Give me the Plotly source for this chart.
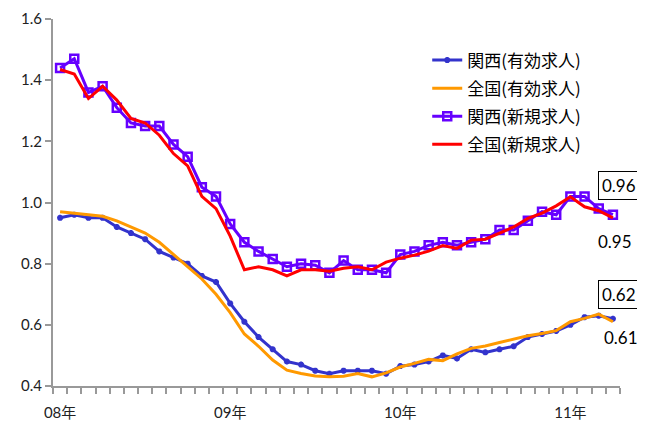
import plotly.graph_objects as go

months = [f"{y}-{m:02d}" for y in (2008, 2009, 2010, 2011) for m in range(1, 13)][:40]
x_idx = list(range(len(months)))

tick_pos = [0, 12, 24, 36]
tick_labels = ["08年", "09年", "10年", "11年"]

kansai_eff = [0.95, 0.96, 0.95, 0.95, 0.92, 0.90, 0.88, 0.84, 0.82, 0.80, 0.76, 0.74,
              0.67, 0.61, 0.56, 0.52, 0.48, 0.47, 0.45, 0.44, 0.45, 0.45, 0.45, 0.44,
              0.465, 0.47, 0.48, 0.50, 0.49, 0.52, 0.51, 0.52, 0.53, 0.56, 0.57, 0.58,
              0.60, 0.625, 0.63, 0.62]
national_eff = [0.97, 0.965, 0.96, 0.955, 0.94, 0.92, 0.90, 0.87, 0.83, 0.79, 0.75, 0.70,
                0.64, 0.57, 0.53, 0.485, 0.452, 0.441, 0.433, 0.43, 0.432, 0.441, 0.43, 0.443,
                0.462, 0.474, 0.487, 0.483, 0.505, 0.523, 0.531, 0.542, 0.553, 0.564, 0.572, 0.581,
                0.61, 0.621, 0.635, 0.61]
kansai_new = [1.44, 1.47, 1.36, 1.38, 1.31, 1.26, 1.25, 1.25, 1.19, 1.15, 1.05, 1.02,
              0.93, 0.87, 0.84, 0.815, 0.79, 0.80, 0.795, 0.77, 0.81, 0.78, 0.78, 0.77,
              0.83, 0.84, 0.86, 0.87, 0.86, 0.87, 0.88, 0.91, 0.91, 0.94, 0.97, 0.96,
              1.02, 1.02, 0.98, 0.96]
national_new = [1.435, 1.42, 1.34, 1.38, 1.335, 1.275, 1.26, 1.22, 1.16, 1.12, 1.02, 0.98,
                0.89, 0.78, 0.79, 0.78, 0.76, 0.78, 0.78, 0.775, 0.785, 0.79, 0.78, 0.805,
                0.818, 0.828, 0.841, 0.859, 0.85, 0.877, 0.88, 0.90, 0.92, 0.948, 0.965, 0.989,
                1.019, 0.986, 0.973, 0.95]

names = ["関西(有効求人)", "全国(有効求人)", "関西(新規求人)", "全国(新規求人)"]

FONT = "Lato, 'Noto Sans CJK JP', sans-serif"
CJK = "'Noto Sans CJK JP', sans-serif"

fig = go.Figure()
fig.add_trace(go.Scatter(x=x_idx, y=kansai_eff, name=names[0], mode="lines+markers",
                         legendgroup="a",
                         line=dict(color="#3333CC", width=3),
                         marker=dict(symbol="asterisk-open", size=5, color="#3333CC",
                                     line=dict(color="#3333CC", width=2))))
fig.add_trace(go.Scatter(x=x_idx, y=national_eff, name=names[1], mode="lines",
                         legendgroup="b",
                         line=dict(color="#FF9900", width=3)))
fig.add_trace(go.Scatter(x=x_idx, y=kansai_new, name=names[2], mode="lines+markers",
                         legendgroup="c",
                         line=dict(color="#6600FF", width=3),
                         marker=dict(symbol="square-open", size=8, color="#6600FF",
                                     line=dict(color="#6600FF", width=2.5))))
fig.add_trace(go.Scatter(x=x_idx, y=national_new, name=names[3], mode="lines",
                         legendgroup="d",
                         line=dict(color="#FF0000", width=3)))

box = dict(bordercolor="black", borderwidth=1, bgcolor="white", borderpad=3)
fig.add_annotation(x=39.42, y=1.054, text=f"{kansai_new[-1]:.2f}", showarrow=False,
                   font=dict(size=17, family=FONT, color="black"), **box)
fig.add_annotation(x=39.14, y=0.871, text=f"{national_new[-1]:.2f}", showarrow=False,
                   font=dict(size=17, family=FONT, color="black"))
fig.add_annotation(x=39.42, y=0.70, text=f"{kansai_eff[-1]:.2f}", showarrow=False,
                   font=dict(size=17, family=FONT, color="black"), **box)
fig.add_annotation(x=39.42, y=0.557, xshift=2, text=f"{national_eff[-1]:.2f}", showarrow=False,
                   font=dict(size=17, family=FONT, color="black"))

fig.update_layout(
    width=637, height=415,
    margin=dict(l=45, r=25, t=11, b=37),
    paper_bgcolor="white", plot_bgcolor="white",
    font=dict(family=FONT, size=14, color="#222222"),
    showlegend=True,
    legend=dict(x=0.66, y=0.936, xanchor="left", yanchor="top",
                font=dict(family=CJK, size=17, color="black"),
                bgcolor="rgba(0,0,0,0)", tracegroupgap=3, traceorder="grouped"),
    xaxis=dict(range=[-0.5, 39.5], tickmode="array", tickvals=tick_pos, ticktext=tick_labels,
               ticks="", showgrid=False, zeroline=False, automargin=False,
               showline=True, linecolor="#999999", linewidth=2,
               minor=dict(ticks="outside", tick0=-0.5, dtick=1, ticklen=6,
                          tickcolor="#999999", tickwidth=1.5, showgrid=False),
               tickfont=dict(family=FONT, size=15, color="#222222"), ticklabelstandoff=12),
    yaxis=dict(range=[0.4, 1.6], dtick=0.2, tick0=0.4, tickformat=".1f",
               ticks="outside", ticklen=6, tickcolor="#999999", tickwidth=1.5,
               showgrid=False, zeroline=False, automargin=False,
               showline=True, linecolor="#999999", linewidth=2,
               tickfont=dict(family=FONT, size=15, color="#222222")),
)

fig.write_html("out.html")
